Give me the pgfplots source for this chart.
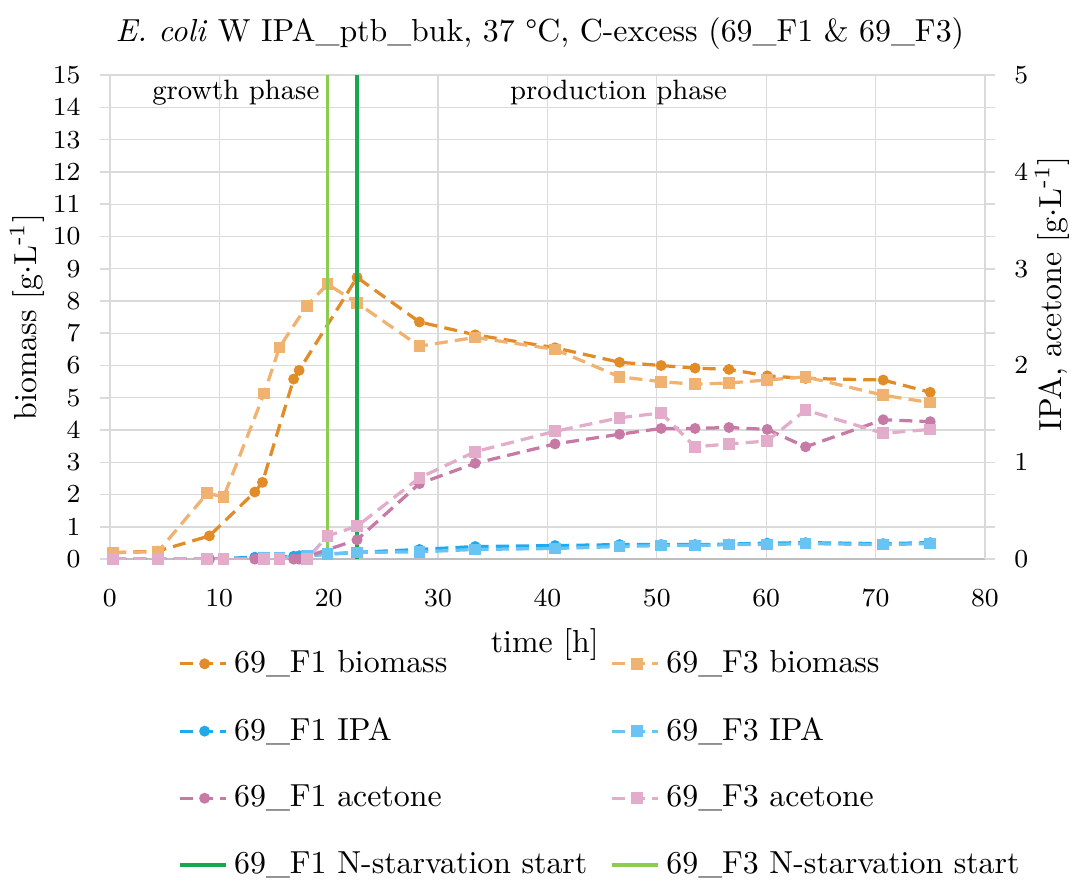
\documentclass[border=0pt]{standalone}
\usepackage{pgfplots}
\pgfplotsset{compat=1.18}

\definecolor{bioA}{RGB}{226,140,40}
\definecolor{bioB}{RGB}{240,178,112}
\definecolor{ipaA}{RGB}{30,170,238}
\definecolor{ipaB}{RGB}{105,196,244}
\definecolor{aceA}{RGB}{200,122,166}
\definecolor{aceB}{RGB}{226,172,202}
\definecolor{nstA}{RGB}{22,168,78}
\definecolor{nstB}{RGB}{140,204,78}
\definecolor{gridgray}{RGB}{218,218,218}
\definecolor{axisgray}{RGB}{190,190,190}

% time [h] vs. concentration, fermentation 69_F1
\pgfplotstableread{
t     bio   ipa    ace
0.3   0.20  0.000  0.00
4.4   0.25  0.000  0.00
9.1   0.72  0.000  0.00
13.25 2.08  0.020  0.00
13.95 2.38  0.020  0.00
16.8  5.58  0.030  0.00
17.3  5.85  0.035  0.00
22.6  8.73  0.070  0.20
28.3  7.35  0.100  0.78
33.4  6.95  0.130  0.99
40.7  6.55  0.140  1.19
46.6  6.10  0.150  1.29
50.4  6.00  0.150  1.35
53.5  5.92  0.150  1.35
56.6  5.88  0.155  1.36
60.1  5.68  0.165  1.34
63.6  5.60  0.170  1.16
70.7  5.55  0.160  1.44
75.0  5.17  0.170  1.42
}\ferA

% time [h] vs. concentration, fermentation 69_F3
\pgfplotstableread{
t     bio   ipa    ace
0.3   0.20  0.000  0.00
4.4   0.23  0.000  0.00
8.9   2.04  0.000  0.00
10.4  1.93  0.000  0.00
14.1  5.13  0.010  0.00
15.5  6.56  0.015  0.00
18.0  7.85  0.030  0.00
19.9  8.52  0.050  0.24
22.6  7.94  0.070  0.34
28.3  6.60  0.075  0.84
33.4  6.87  0.100  1.11
40.7  6.50  0.110  1.32
46.6  5.65  0.130  1.46
50.4  5.50  0.140  1.51
53.5  5.42  0.140  1.16
56.6  5.46  0.150  1.19
60.1  5.55  0.150  1.22
63.6  5.65  0.160  1.54
70.7  5.08  0.150  1.30
75.0  4.85  0.160  1.34
}\ferB

\newcommand\mainfont{\fontsize{9.8}{12}\selectfont}

\pgfplotsset{
  base/.style={
    scale only axis, width=269.2pt, height=148.9pt,
    xmin=0, xmax=80,
    tick label style={font=\fontsize{8.5}{10}\selectfont},
  },
  ser/.style={line width=1pt, dash pattern=on 4pt off 2.2pt},
  circ/.style={ser, mark=*, mark size=1.15pt, mark options={solid}},
  sq/.style={ser, mark=square*, mark size=1.3pt, mark options={solid}},
  markleg/.style={legend image code/.code={
      \path (0cm,0cm) -- (0.5cm,0cm);
      \draw[mark repeat=2,mark phase=2,##1] plot coordinates {(0cm,0cm) (0.27cm,0cm) (0.37cm,0cm)};}},
  lineleg/.style={legend image code/.code={\draw[##1] (0cm,0cm) -- (0.5cm,0cm);}},
}

\begin{document}
\begin{tikzpicture}
% biomass, left axis
\begin{axis}[base,
  ymin=0, ymax=15, ytick={0,1,...,15}, xtick={0,10,...,80},
  grid=major, grid style={line width=0.4pt, draw=gridgray},
  axis line style={draw=gridgray, line width=0.5pt},
  xtick style={draw=none},
  ytick style={draw=gridgray, line width=0.5pt},
  tick align=outside, major tick length=3pt,
  yticklabel style={xshift=-2.5pt},
  xticklabel style={yshift=-3pt},
  xlabel={time [h]},
  xlabel style={at={(axis description cs:0.497,-0.177)}, anchor=center, font=\mainfont},
  ylabel={biomass [g$\cdot$L\textsuperscript{-1}]},
  ylabel style={at={(axis description cs:-0.095,0.5)}, anchor=center, rotate=0, font=\mainfont},
  title={\textit{E. coli} W IPA\_ptb\_buk, 37 \textdegree C, C-excess (69\_F1 \& 69\_F3)},
  title style={at={(axis description cs:0.4914,1)}, anchor=center, yshift=6.9pt, font=\mainfont},
]
\addplot[circ, color=bioA, forget plot] table[x=t, y=bio] {\ferA};
\addplot[sq, color=bioB, forget plot] table[x=t, y=bio] {\ferB};
\draw[axisgray, line width=0.7pt] (rel axis cs:0,0) -- (rel axis cs:1,0);
\node[anchor=east, font=\fontsize{8.6}{10}\selectfont] at (axis cs:20.2,14.47) {growth phase};
\node[anchor=center, font=\fontsize{8.6}{10}\selectfont] at (axis cs:46.5,14.47) {production phase};
\coordinate (BL) at (rel axis cs:0,0);
\coordinate (TR) at (rel axis cs:1,1);
\end{axis}

% IPA and acetone, right axis
\begin{axis}[base,
  axis x line=none,
  axis y line*=right,
  ymin=0, ymax=5, ytick={0,1,...,5},
  axis line style={draw=gridgray, line width=0.5pt},
  ytick style={draw=gridgray, line width=0.5pt},
  tick align=outside, major tick length=2.5pt,
  yticklabel style={xshift=3pt},
  ylabel={IPA, acetone [g$\cdot$L\textsuperscript{-1}]},
  ylabel style={at={(axis description cs:1.0766,0.548)}, anchor=center, rotate=0, font=\mainfont},
  legend columns=2,
  legend cell align=left,
  legend style={draw=none, fill=none, inner sep=0pt, outer sep=0pt,
    at={(rel axis cs:0.0777,-0.175)}, anchor=north west,
    font=\mainfont, row sep=8.3pt,
    /tikz/every even column/.append style={column sep=5pt}},
]
\addlegendimage{markleg, circ, color=bioA}
\addlegendentry{69\_F1 biomass}
\addlegendimage{markleg, sq, color=bioB}
\addlegendentry{69\_F3 biomass}
\addlegendimage{markleg, circ, color=ipaA}
\addlegendentry{69\_F1 IPA}
\addlegendimage{markleg, sq, color=ipaB}
\addlegendentry{69\_F3 IPA}
\addlegendimage{markleg, circ, color=aceA}
\addlegendentry{69\_F1 acetone}
\addlegendimage{markleg, sq, color=aceB}
\addlegendentry{69\_F3 acetone}
\addlegendimage{lineleg, color=nstA, line width=1.1pt}
\addlegendentry{69\_F1 N-starvation start}
\addlegendimage{lineleg, color=nstB, line width=1.1pt}
\addlegendentry{69\_F3 N-starvation start}

\addplot[circ, color=ipaA, forget plot] table[x=t, y=ipa] {\ferA};
\addplot[sq, color=ipaB, forget plot] table[x=t, y=ipa] {\ferB};
\addplot[circ, color=aceA, forget plot] table[x=t, y=ace] {\ferA};
\addplot[sq, color=aceB, forget plot] table[x=t, y=ace] {\ferB};
% start of nitrogen starvation
\addplot[color=nstA, line width=1.1pt, forget plot] coordinates {(22.6,0) (22.6,5)};
\addplot[color=nstB, line width=1.1pt, forget plot] coordinates {(19.9,0) (19.9,5)};
\end{axis}

\pgfresetboundingbox
\path ([shift={(-33.8pt,-99.4pt)}]BL) rectangle ([shift={(27.4pt,23.1pt)}]TR);
\end{tikzpicture}
\end{document}
